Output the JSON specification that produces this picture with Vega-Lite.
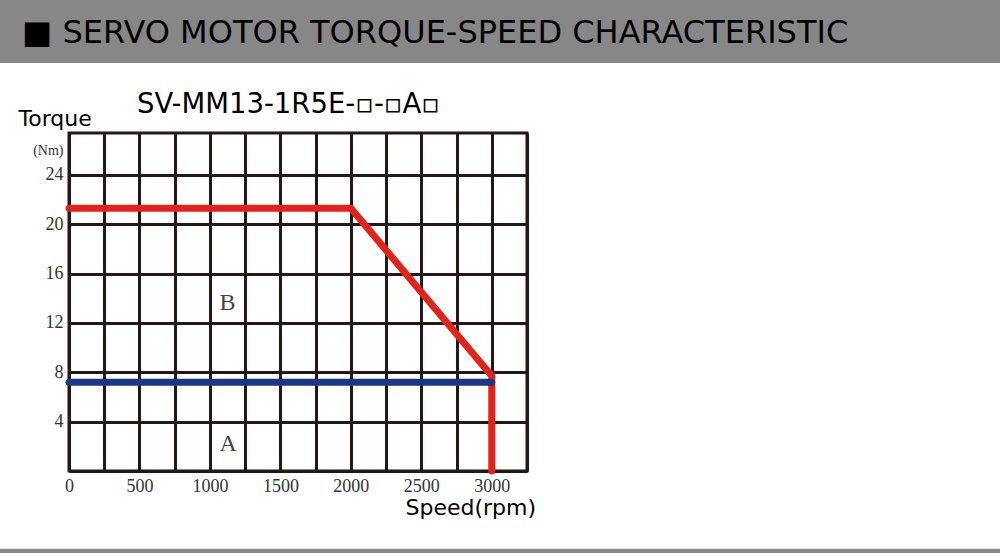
{
  "$schema": "https://vega.github.io/schema/vega-lite/v6.json",
  "width": 458,
  "height": 338,
  "autosize": "none",
  "padding": {"left": 69, "top": 133, "right": 473, "bottom": 82},
  "background": "white",
  "config": {
    "view": {"stroke": "#231815", "strokeWidth": 3},
    "axis": {
      "grid": true,
      "gridColor": "#231815",
      "gridWidth": 3,
      "gridOpacity": 1,
      "ticks": false,
      "domain": false,
      "labelFont": "Liberation Serif",
      "labelFontSize": 18,
      "labelColor": "#333333",
      "labelFlush": false,
      "titleFont": "DejaVu Sans",
      "titleFontSize": 22,
      "titleFontWeight": "normal",
      "titleColor": "#000000",
      "labelOverlap": false
    }
  },
  "datasets": {
    "curves": [
      {"series": "peak", "i": 0, "speed": 0, "torque": 21.3},
      {"series": "peak", "i": 1, "speed": 2000, "torque": 21.3},
      {"series": "peak", "i": 2, "speed": 3000, "torque": 7.7},
      {"series": "peak", "i": 3, "speed": 3000, "torque": 0},
      {"series": "rated", "i": 0, "speed": 0, "torque": 7.2},
      {"series": "rated", "i": 1, "speed": 3000, "torque": 7.2}
    ],
    "regions": [
      {"label": "B", "speed": 1125, "torque": 13.6},
      {"label": "A", "speed": 1130, "torque": 2.2}
    ]
  },
  "layer": [
    {
      "data": {"name": "curves"},
      "transform": [{"filter": "datum.series == 'peak'"}],
      "mark": {"type": "line", "color": "#e3221c", "strokeWidth": 7, "strokeCap": "round", "strokeJoin": "round"},
      "encoding": {
        "x": {
          "field": "speed", "type": "quantitative",
          "scale": {"domain": [0, 3250], "nice": false, "zero": false},
          "axis": {
            "values": [0, 250, 500, 750, 1000, 1250, 1500, 1750, 2000, 2250, 2500, 2750, 3000, 3250],
            "tickCount": 20,
            "format": "d",
            "labelExpr": "(datum.value % 500 == 0 && datum.value <= 3000) ? datum.label : ''",
            "labelPadding": 6,
            "title": "Speed(rpm)",
            "titleAlign": "left",
            "titleBaseline": "alphabetic",
            "titleX": 336,
            "titleY": 43
          }
        },
        "y": {
          "field": "torque", "type": "quantitative",
          "scale": {"domain": [0, 27.4], "nice": false, "zero": false},
          "axis": {
            "values": [0, 4, 8, 12, 16, 20, 24, 26],
            "tickCount": 20,
            "labelExpr": "datum.value == 0 ? '' : (datum.value == 26 ? '(Nm)' : datum.label)",
            "labelFontSize": {"condition": {"test": "datum.value == 26", "value": 14}, "value": 18},
            "gridOpacity": {"condition": {"test": "datum.value == 26", "value": 0}, "value": 1},
            "labelPadding": 6,
            "title": "Torque",
            "titleAngle": 0,
            "titleAlign": "left",
            "titleBaseline": "alphabetic",
            "titleX": -51,
            "titleY": -8
          }
        },
        "order": {"field": "i", "type": "quantitative"}
      }
    },
    {
      "data": {"name": "curves"},
      "transform": [{"filter": "datum.series == 'rated'"}],
      "mark": {"type": "line", "color": "#1b3786", "strokeWidth": 7, "strokeCap": "round"},
      "encoding": {
        "x": {"field": "speed", "type": "quantitative"},
        "y": {"field": "torque", "type": "quantitative"},
        "order": {"field": "i", "type": "quantitative"}
      }
    },
    {
      "data": {"values": [{}]},
      "mark": {"type": "rect", "color": "#878787", "clip": false},
      "encoding": {
        "x": {"datum": -500, "type": "quantitative"},
        "x2": {"datum": 6700},
        "y": {"datum": 38.3, "type": "quantitative"},
        "y2": {"datum": 33.08}
      }
    },
    {
      "data": {"values": [{}]},
      "mark": {"type": "rect", "color": "#8a8a8a", "clip": false},
      "encoding": {
        "x": {"datum": -500, "type": "quantitative"},
        "x2": {"datum": 6700},
        "y": {"datum": -6.3, "type": "quantitative"},
        "y2": {"datum": -6.8}
      }
    },
    {
      "data": {"values": [{"heading": "■ SERVO MOTOR TORQUE-SPEED CHARACTERISTIC"}]},
      "mark": {"type": "text", "font": "DejaVu Sans", "fontSize": 32, "color": "#000000", "align": "left", "baseline": "alphabetic", "clip": false},
      "encoding": {
        "x": {"datum": -333.5, "type": "quantitative"},
        "y": {"datum": 34.7, "type": "quantitative"},
        "text": {"field": "heading"}
      }
    },
    {
      "data": {"name": "regions"},
      "mark": {"type": "text", "font": "Liberation Serif", "fontSize": 24, "color": "#444444"},
      "encoding": {
        "x": {"field": "speed", "type": "quantitative"},
        "y": {"field": "torque", "type": "quantitative"},
        "text": {"field": "label"}
      }
    },
    {
      "data": {"values": [{"model": "SV-MM13-1R5E-▫-▫A▫"}]},
      "mark": {"type": "text", "font": "DejaVu Sans", "fontSize": 27.5, "color": "#000000", "align": "left", "baseline": "alphabetic", "clip": false},
      "encoding": {
        "x": {"datum": 482, "type": "quantitative"},
        "y": {"datum": 29.03, "type": "quantitative"},
        "text": {"field": "model"}
      }
    }
  ]
}
